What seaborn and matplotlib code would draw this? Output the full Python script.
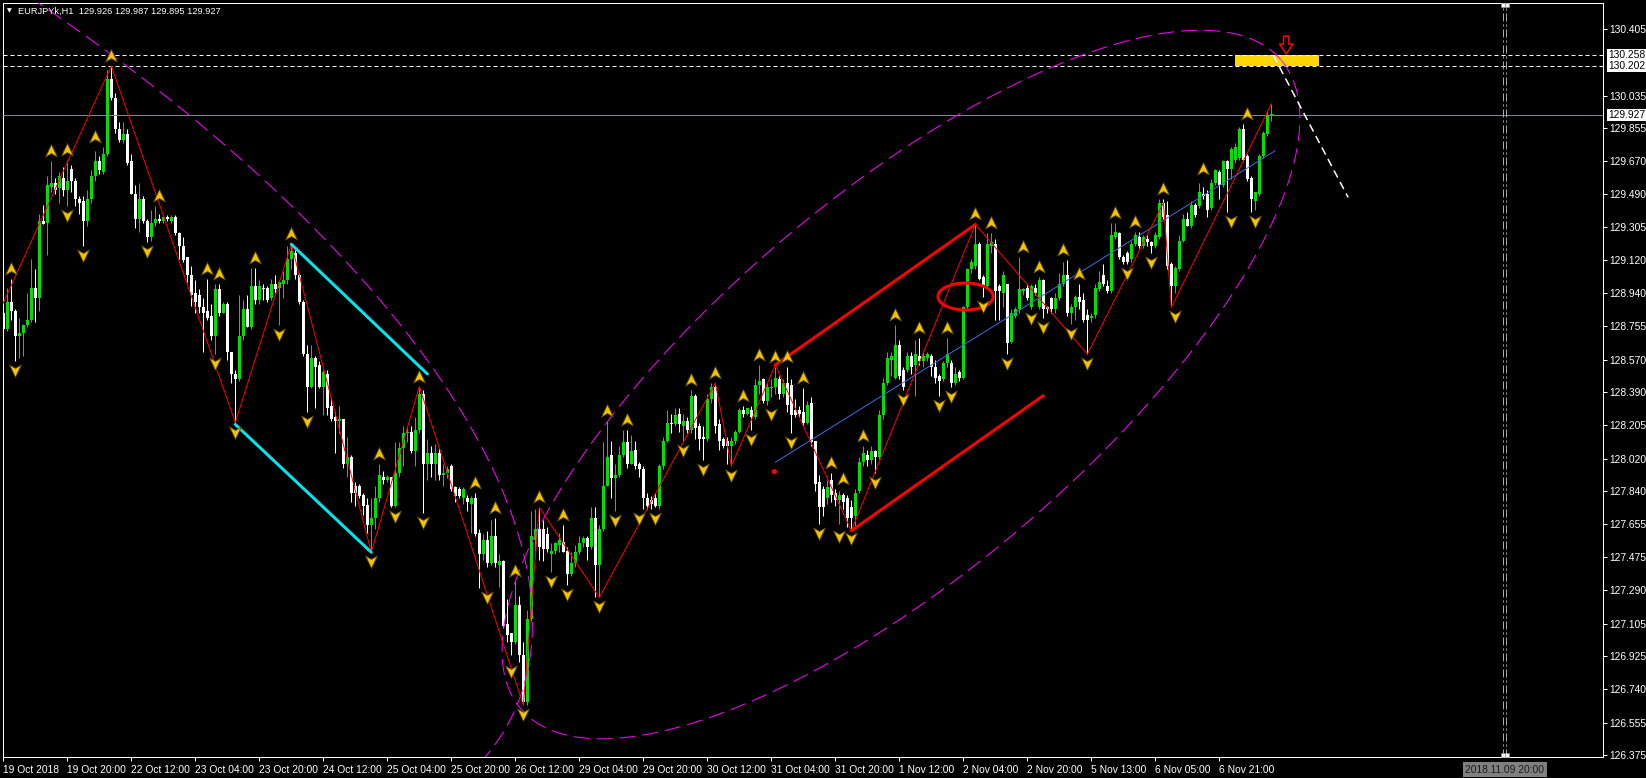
import numpy as np
import pandas as pd
import matplotlib
matplotlib.use("Agg")
import matplotlib.pyplot as plt
from matplotlib.path import Path
from matplotlib import transforms
import seaborn as sns

# ---- values -----------------------------------------------------------
title = "EURJPYk,H1  129.926 129.987 129.895 129.927"

time_labels = ["19 Oct 2018", "19 Oct 20:00", "22 Oct 12:00", "23 Oct 04:00",
               "23 Oct 20:00", "24 Oct 12:00", "25 Oct 04:00", "25 Oct 20:00",
               "26 Oct 12:00", "29 Oct 04:00", "29 Oct 20:00", "30 Oct 12:00",
               "31 Oct 04:00", "31 Oct 20:00", "1 Nov 12:00", "2 Nov 04:00",
               "2 Nov 20:00", "5 Nov 13:00", "6 Nov 05:00", "6 Nov 21:00"]
bars_per_label = 16

price_ticks = [126.375, 126.555, 126.740, 126.925, 127.105, 127.290, 127.475,
               127.655, 127.840, 128.020, 128.205, 128.390, 128.570, 128.755,
               128.940, 129.120, 129.305, 129.490, 129.670, 129.855, 130.035,
               130.405]

# H1 candles, one row per bar (open, high, low, close)
ohlc = [
    (128.83, 128.85, 128.72, 128.74), (128.74, 128.97, 128.73, 128.89), (128.89, 129.02, 128.79, 128.84),
    (128.84, 128.85, 128.56, 128.70), (128.70, 128.80, 128.58, 128.72), (128.72, 128.77, 128.59, 128.76),
    (128.76, 128.94, 128.75, 128.79), (128.79, 129.13, 128.78, 128.97), (128.97, 129.07, 128.78, 128.91),
    (128.91, 129.38, 128.84, 129.34), (129.34, 129.43, 129.32, 129.32), (129.33, 129.59, 129.15, 129.54),
    (129.53, 129.67, 129.50, 129.55), (129.55, 129.58, 129.49, 129.51), (129.52, 129.61, 129.44, 129.59),
    (129.58, 129.64, 129.48, 129.51), (129.51, 129.68, 129.42, 129.56), (129.63, 129.65, 129.50, 129.56),
    (129.56, 129.58, 129.42, 129.46), (129.46, 129.48, 129.38, 129.44), (129.45, 129.48, 129.20, 129.34),
    (129.34, 129.51, 129.31, 129.46), (129.46, 129.62, 129.44, 129.59), (129.59, 129.73, 129.56, 129.67),
    (129.67, 129.70, 129.60, 129.62), (129.61, 129.75, 129.60, 129.71), (129.71, 130.18, 129.70, 130.13),
    (130.13, 130.20, 130.01, 130.02), (130.02, 130.05, 129.83, 129.85), (129.85, 129.89, 129.78, 129.79),
    (129.79, 129.89, 129.77, 129.82), (129.82, 129.85, 129.65, 129.66), (129.67, 129.71, 129.49, 129.49),
    (129.49, 129.54, 129.30, 129.35), (129.35, 129.55, 129.28, 129.46), (129.46, 129.48, 129.33, 129.34),
    (129.34, 129.35, 129.22, 129.25), (129.25, 129.40, 129.23, 129.33), (129.33, 129.42, 129.31, 129.35),
    (129.35, 129.38, 129.33, 129.34), (129.34, 129.37, 129.33, 129.36), (129.36, 129.37, 129.34, 129.35),
    (129.34, 129.37, 129.33, 129.36), (129.36, 129.37, 129.26, 129.27), (129.27, 129.28, 129.13, 129.20),
    (129.20, 129.25, 129.11, 129.12), (129.14, 129.14, 129.00, 129.04), (129.04, 129.09, 128.87, 128.93),
    (128.94, 129.01, 128.83, 128.89), (128.93, 128.96, 128.83, 128.86), (128.86, 128.91, 128.61, 128.83),
    (128.84, 129.02, 128.79, 128.80), (128.81, 128.88, 128.68, 128.70), (128.70, 128.99, 128.60, 128.96),
    (128.96, 128.99, 128.81, 128.83), (128.83, 128.89, 128.83, 128.88), (128.88, 128.89, 128.57, 128.61),
    (128.61, 128.61, 128.44, 128.49), (128.49, 128.51, 128.22, 128.46), (128.46, 128.93, 128.45, 128.70),
    (128.70, 128.90, 128.68, 128.85), (128.85, 128.93, 128.75, 128.75), (128.75, 129.08, 128.74, 128.98),
    (128.98, 129.08, 128.88, 128.90), (128.90, 129.01, 128.88, 128.98), (128.97, 128.99, 128.90, 128.96),
    (128.97, 128.98, 128.89, 128.90), (128.91, 129.02, 128.90, 128.99), (128.99, 129.04, 128.94, 128.96),
    (128.97, 129.01, 128.76, 129.00), (128.99, 129.06, 128.91, 129.01), (129.01, 129.20, 128.99, 129.13),
    (129.13, 129.21, 129.07, 129.17), (129.16, 129.18, 129.02, 129.04), (129.04, 129.05, 128.88, 128.89),
    (128.89, 128.90, 128.59, 128.60), (128.60, 128.65, 128.28, 128.42), (128.42, 128.65, 128.41, 128.58),
    (128.58, 128.59, 128.30, 128.53), (128.54, 128.56, 128.41, 128.42), (128.42, 128.51, 128.26, 128.50),
    (128.49, 128.51, 128.26, 128.30), (128.31, 128.36, 128.23, 128.24), (128.25, 128.28, 128.05, 128.23),
    (128.23, 128.31, 128.16, 128.24), (128.24, 128.24, 127.97, 127.99), (127.99, 128.14, 127.92, 128.03),
    (128.03, 128.04, 127.78, 127.83), (127.87, 127.89, 127.76, 127.83), (127.87, 127.88, 127.80, 127.81),
    (127.82, 127.83, 127.71, 127.76), (127.76, 127.80, 127.61, 127.65), (127.65, 127.80, 127.50, 127.69),
    (127.69, 127.87, 127.63, 127.80), (127.80, 127.99, 127.78, 127.93), (127.92, 127.95, 127.88, 127.90),
    (127.90, 127.93, 127.89, 127.92), (127.92, 127.92, 127.75, 127.76), (127.76, 128.11, 127.75, 127.94),
    (127.94, 128.11, 127.92, 128.08), (128.08, 128.20, 127.98, 128.16), (128.16, 128.20, 128.11, 128.17),
    (128.17, 128.20, 128.05, 128.06), (128.06, 128.25, 127.98, 128.18), (128.18, 128.42, 128.16, 128.38),
    (128.38, 128.40, 127.72, 127.99), (127.99, 128.13, 127.90, 128.05), (128.05, 128.09, 127.92, 127.99),
    (127.99, 128.10, 127.90, 128.05), (128.05, 128.08, 127.90, 127.93), (127.93, 127.99, 127.87, 127.94),
    (127.94, 127.98, 127.91, 127.96), (127.98, 127.99, 127.84, 127.85), (127.86, 127.87, 127.78, 127.81),
    (127.85, 127.86, 127.80, 127.81), (127.80, 127.86, 127.77, 127.85), (127.80, 127.82, 127.73, 127.78),
    (127.77, 127.81, 127.61, 127.80), (127.80, 127.83, 127.59, 127.60), (127.61, 127.63, 127.30, 127.49),
    (127.49, 127.60, 127.46, 127.57), (127.57, 127.62, 127.42, 127.44), (127.44, 127.68, 127.43, 127.59),
    (127.59, 127.69, 127.42, 127.44), (127.43, 127.49, 127.31, 127.45), (127.45, 127.46, 127.08, 127.09),
    (127.10, 127.24, 127.00, 127.04), (127.05, 127.05, 126.93, 127.00), (127.00, 127.34, 126.99, 127.21),
    (127.21, 127.26, 126.89, 126.93), (126.93, 127.00, 126.66, 126.67), (126.67, 127.18, 126.65, 127.13),
    (127.13, 127.73, 127.12, 127.59), (127.57, 127.74, 127.51, 127.63), (127.63, 127.75, 127.46, 127.53),
    (127.63, 127.68, 127.45, 127.52), (127.60, 127.64, 127.50, 127.52), (127.49, 127.55, 127.39, 127.51),
    (127.51, 127.56, 127.49, 127.55), (127.54, 127.61, 127.50, 127.57), (127.56, 127.65, 127.50, 127.50),
    (127.51, 127.53, 127.32, 127.38), (127.38, 127.50, 127.37, 127.44), (127.44, 127.54, 127.42, 127.50),
    (127.50, 127.59, 127.49, 127.55), (127.55, 127.59, 127.53, 127.58), (127.58, 127.59, 127.46, 127.53),
    (127.53, 127.75, 127.52, 127.69), (127.69, 127.75, 127.25, 127.43), (127.43, 127.65, 127.25, 127.63),
    (127.63, 128.11, 127.62, 127.87), (127.87, 128.23, 127.87, 128.03), (128.04, 128.12, 127.80, 127.91),
    (127.91, 127.99, 127.73, 127.93), (127.93, 128.09, 127.92, 128.04), (128.04, 128.18, 128.03, 128.11),
    (128.11, 128.18, 127.97, 127.99), (127.99, 128.15, 127.99, 128.06), (128.07, 128.12, 127.96, 127.98),
    (127.99, 128.00, 127.92, 127.96), (127.96, 127.98, 127.74, 127.80), (127.80, 127.83, 127.74, 127.76),
    (127.79, 127.81, 127.74, 127.77), (127.80, 127.83, 127.75, 127.76), (127.76, 127.99, 127.74, 127.98),
    (127.98, 128.14, 127.96, 128.12), (128.12, 128.29, 128.11, 128.22), (128.22, 128.27, 128.16, 128.21),
    (128.21, 128.30, 128.20, 128.26), (128.27, 128.30, 128.17, 128.21), (128.20, 128.27, 128.12, 128.23),
    (128.23, 128.25, 128.16, 128.18), (128.18, 128.40, 128.16, 128.37), (128.37, 128.38, 128.13, 128.19),
    (128.20, 128.22, 128.07, 128.13), (128.14, 128.20, 128.01, 128.13), (128.13, 128.38, 128.12, 128.35),
    (128.35, 128.44, 128.33, 128.42), (128.42, 128.43, 128.16, 128.20), (128.21, 128.24, 128.07, 128.12),
    (128.13, 128.14, 128.08, 128.09), (128.12, 128.14, 127.99, 128.09), (128.09, 128.14, 127.98, 128.12),
    (128.12, 128.18, 128.10, 128.17), (128.17, 128.30, 128.16, 128.29), (128.29, 128.31, 128.25, 128.27),
    (128.27, 128.30, 128.26, 128.30), (128.29, 128.31, 128.18, 128.25), (128.25, 128.46, 128.24, 128.43),
    (128.43, 128.54, 128.38, 128.45), (128.46, 128.47, 128.33, 128.34), (128.34, 128.44, 128.32, 128.42),
    (128.41, 128.46, 128.36, 128.42), (128.42, 128.53, 128.38, 128.47), (128.46, 128.48, 128.35, 128.38),
    (128.38, 128.46, 128.36, 128.44), (128.44, 128.53, 128.28, 128.32), (128.43, 128.46, 128.16, 128.26),
    (128.29, 128.35, 128.25, 128.26), (128.29, 128.31, 128.25, 128.27), (128.28, 128.41, 128.20, 128.22),
    (128.22, 128.34, 128.21, 128.32), (128.33, 128.36, 128.09, 128.11), (128.12, 128.12, 127.84, 127.88),
    (127.89, 127.93, 127.66, 127.75), (127.85, 127.87, 127.70, 127.75), (127.80, 127.90, 127.77, 127.86),
    (127.90, 127.94, 127.78, 127.82), (127.83, 127.85, 127.76, 127.79), (127.79, 127.84, 127.66, 127.82),
    (127.82, 127.83, 127.74, 127.78), (127.80, 127.82, 127.64, 127.69), (127.75, 127.79, 127.63, 127.69),
    (127.70, 127.85, 127.64, 127.83), (127.84, 128.03, 127.83, 128.00), (128.00, 128.09, 127.98, 128.05),
    (128.04, 128.07, 127.98, 128.01), (128.01, 128.09, 127.99, 128.06), (128.06, 128.07, 127.94, 128.03),
    (128.03, 128.29, 128.02, 128.26), (128.26, 128.47, 128.24, 128.44), (128.44, 128.61, 128.43, 128.58),
    (128.57, 128.61, 128.48, 128.59), (128.47, 128.76, 128.46, 128.65), (128.65, 128.68, 128.46, 128.48),
    (128.51, 128.53, 128.40, 128.42), (128.51, 128.61, 128.50, 128.59), (128.59, 128.61, 128.49, 128.53),
    (128.54, 128.68, 128.37, 128.60), (128.59, 128.69, 128.54, 128.56), (128.56, 128.62, 128.53, 128.59),
    (128.58, 128.61, 128.56, 128.60), (128.59, 128.60, 128.48, 128.53), (128.53, 128.57, 128.44, 128.47),
    (128.48, 128.49, 128.37, 128.45), (128.46, 128.56, 128.45, 128.55), (128.55, 128.69, 128.53, 128.60),
    (128.55, 128.57, 128.42, 128.44), (128.44, 128.53, 128.43, 128.49), (128.50, 128.51, 128.45, 128.47),
    (128.47, 128.87, 128.46, 128.86), (128.86, 129.08, 128.85, 129.07), (129.07, 129.13, 129.05, 129.11),
    (129.09, 129.32, 129.07, 129.21), (129.21, 129.22, 129.01, 129.02), (129.03, 129.04, 128.92, 128.98),
    (128.98, 129.27, 128.97, 129.21), (129.20, 129.27, 129.16, 129.22), (129.21, 129.24, 128.79, 128.95),
    (128.98, 128.99, 128.79, 128.95), (128.94, 129.06, 128.86, 129.04), (128.99, 128.99, 128.60, 128.66),
    (128.67, 128.85, 128.66, 128.83), (128.81, 128.86, 128.80, 128.85), (128.85, 129.14, 128.83, 128.96),
    (128.95, 128.97, 128.93, 128.96), (128.97, 128.99, 128.90, 128.91), (128.86, 128.99, 128.85, 128.98),
    (128.97, 128.99, 128.93, 128.94), (128.86, 129.03, 128.85, 129.01), (129.01, 129.02, 128.80, 128.85),
    (128.86, 128.87, 128.83, 128.85), (128.91, 128.92, 128.83, 128.85), (128.85, 128.94, 128.83, 128.91),
    (128.91, 129.05, 128.90, 128.99), (128.99, 129.11, 128.98, 129.04), (129.04, 129.12, 128.81, 128.83),
    (128.83, 128.88, 128.77, 128.86), (128.86, 128.93, 128.79, 128.92), (128.92, 128.99, 128.85, 128.89),
    (128.90, 128.94, 128.78, 128.79), (128.82, 128.85, 128.60, 128.79), (128.80, 128.83, 128.78, 128.81),
    (128.82, 128.99, 128.80, 128.97), (128.96, 129.06, 128.95, 129.00), (129.04, 129.10, 128.98, 128.99),
    (128.98, 129.01, 128.94, 128.95), (128.95, 129.33, 128.94, 129.26), (129.25, 129.33, 129.24, 129.28),
    (129.27, 129.28, 129.13, 129.14), (129.14, 129.15, 129.10, 129.11), (129.16, 129.17, 129.10, 129.11),
    (129.13, 129.23, 129.11, 129.21), (129.21, 129.28, 129.20, 129.26), (129.25, 129.28, 129.19, 129.20),
    (129.20, 129.26, 129.19, 129.25), (129.24, 129.26, 129.20, 129.22), (129.22, 129.23, 129.16, 129.20),
    (129.20, 129.28, 129.19, 129.26), (129.25, 129.46, 129.24, 129.44), (129.44, 129.46, 129.35, 129.36),
    (129.37, 129.45, 129.07, 129.09), (129.10, 129.11, 128.86, 128.98), (128.98, 129.09, 128.94, 129.08),
    (129.07, 129.26, 129.06, 129.23), (129.23, 129.38, 129.22, 129.35), (129.35, 129.39, 129.31, 129.31),
    (129.31, 129.45, 129.30, 129.43), (129.43, 129.44, 129.36, 129.37), (129.42, 129.55, 129.41, 129.50),
    (129.49, 129.53, 129.46, 129.48), (129.49, 129.51, 129.36, 129.40), (129.41, 129.57, 129.40, 129.55),
    (129.55, 129.63, 129.54, 129.62), (129.61, 129.62, 129.46, 129.54), (129.54, 129.68, 129.53, 129.67),
    (129.67, 129.68, 129.39, 129.63), (129.63, 129.75, 129.57, 129.74), (129.68, 129.77, 129.66, 129.75),
    (129.69, 129.86, 129.68, 129.85), (129.85, 129.88, 129.67, 129.68), (129.70, 129.71, 129.56, 129.57),
    (129.58, 129.59, 129.39, 129.46), (129.45, 129.50, 129.40, 129.50), (129.49, 129.71, 129.48, 129.70),
    (129.70, 129.84, 129.69, 129.83), (129.82, 129.95, 129.81, 129.93), (129.926, 129.987, 129.895, 129.927),
]

# Bill Williams fractal bars
fractal_up = [2, 12, 16, 23, 27, 39, 51, 54, 63, 72, 94, 104, 118, 123, 128, 134, 140,
              151, 156, 172, 178, 185, 189, 193, 196, 200, 207, 210, 215, 223, 229, 236,
              243, 247, 255, 259, 265, 269, 278, 283, 290, 300, 311]
fractal_down = [3, 16, 20, 36, 53, 58, 69, 76, 92, 98, 105, 121, 127, 130, 137, 141, 149,
                153, 159, 163, 170, 175, 182, 187, 192, 197, 204, 209, 212, 218, 225, 234,
                237, 245, 251, 257, 260, 267, 271, 281, 287, 293, 307, 313]

# ZigZag pivots (bar, price)
zz_bars = [-4, 27, 58, 72, 92, 104, 130, 134, 149, 178, 182, 193, 212, 243, 271, 290, 292, 317]
zz_prices = [128.69, 130.20, 128.22, 129.21, 127.50, 128.42, 126.65, 127.75, 127.25,
             128.44, 127.98, 128.54, 127.62, 129.32, 128.60, 129.44, 128.86, 129.99]

# drawn objects (bar, price anchors)
cyan_upper = ([72, 106], [129.21, 128.49])
cyan_lower = ([58, 92], [128.21, 127.50])
red_upper = ([193, 243], [128.54, 129.32])
red_lower = ([212, 260], [127.62, 128.37])
regression = ([193, 318], [128.00, 129.73])
forecast_line = ([317.5, 336.2], [130.258, 129.47])
red_dot = (192.75, 127.948)
red_ring = (240.55, 128.92, 6.9, 0.075)          # centre bar, centre price, half width, half height
ellipse_left = ((127.2, 126.592), (-361.3, 131.876), 0.421)
ellipse_right = ((129.4, 126.630), (319.4, 130.233), 0.374)
target_zone = (308, 329, 130.202, 130.258)
target_arrow = (320.7, 130.316)
level_lines = [130.258, 130.202]
bid_price = 129.927
vline_bar = 375
vline_label = "2018.11.09 20:00"

# ---- style ------------------------------------------------------------
sns.set_style("ticks", {"axes.facecolor": "black", "figure.facecolor": "black"})
plt.rcParams["font.family"] = ["Liberation Sans", "DejaVu Sans"]
plt.rcParams["lines.scale_dashes"] = False
PX = 0.72                     # one screen pixel in points at dpi 100
FS = 7.4                      # axis labels
FS_TITLE = 6.7
BULL, BEAR = "#00e000", "#ffffff"
MAGENTA, CYAN = "#ff00ff", "#00e5ee"
GOLD, GOLD_EDGE = "#f4c400", "#5c4600"

W, H = 1646, 778
fig = plt.figure(figsize=(W / 100, H / 100), dpi=100, facecolor="black")
L_PX, R_PX, T_PX, B_PX = 2.5, 1603, 2.5, 757
ax = fig.add_axes([L_PX / W, (H - B_PX) / H, (R_PX - L_PX) / W, (B_PX - T_PX) / H])
ax.set_facecolor("black")
XLIM = (-0.2, 399.9)
YLIM = (126.364, 130.552)
ax.set_xlim(*XLIM)
ax.set_ylim(*YLIM)
ax.autoscale(False)

bars = pd.DataFrame(ohlc, columns=["open", "high", "low", "close"])
bars["bar"] = np.arange(len(bars))
up = bars["close"] >= bars["open"]
colors = np.where(up, BULL, BEAR)

# ---- candles ----------------------------------------------------------
ax.vlines(bars["bar"], bars["low"], bars["high"], colors=colors, lw=PX, zorder=2)
body_lo = np.minimum(bars["open"], bars["close"])
body_h = np.maximum((bars["close"] - bars["open"]).abs(), 0.006)
ax.bar(bars["bar"], body_h, bottom=body_lo, width=0.75, color=colors, lw=0, zorder=2.1)

# ---- horizontal / vertical lines --------------------------------------
for lv in level_lines:
    ax.axhline(lv, color="white", lw=PX, linestyle=(0, (4 * PX, 3 * PX)), zorder=3)
ax.axhline(bid_price, color="#778899", lw=PX, zorder=3)
for dx in (0.0, 0.75):
    ax.axvline(vline_bar + dx, color="#a8a8a8", lw=PX,
               linestyle=(0, (8 * PX, 3 * PX, 2 * PX, 3 * PX)), zorder=3)
xa = transforms.blended_transform_factory(ax.transData, ax.transAxes)
for yy in (0.9967, 0.0033):
    ax.scatter([vline_bar - 0.1, vline_bar + 0.85], [yy, yy], transform=xa, marker="s",
               s=(3.5 * PX) ** 2, facecolor="white", edgecolor="#909090", lw=0.4,
               zorder=5, clip_on=False)

# target zone + arrow + dashed forecast
ax.fill_between(target_zone[:2], target_zone[2], target_zone[3], color="#ffd700",
                lw=0, zorder=2.5)
arrow_path = Path([(-0.3, 1), (0.3, 1), (0.3, 0.1), (0.75, 0.1), (0, -1),
                   (-0.75, 0.1), (-0.3, 0.1), (-0.3, 1)])
ax.scatter([target_arrow[0]], [target_arrow[1]], marker=arrow_path, s=165,
           facecolors="none", edgecolors="#ff0000", linewidths=1.1, zorder=5)
ax.plot(*forecast_line, color="white", lw=1.5 * PX,
        linestyle=(0, (8 * PX, 5 * PX)), zorder=4)

# ---- indicator lines (seaborn) ----------------------------------------
sns.lineplot(x=zz_bars, y=zz_prices, ax=ax, color="#ff0000", linewidth=PX,
             sort=False, estimator=None, zorder=3.5)
for seg in (cyan_upper, cyan_lower):
    sns.lineplot(x=seg[0], y=seg[1], ax=ax, color=CYAN, linewidth=3 * PX,
                 sort=False, estimator=None, zorder=3.6)
for seg in (red_upper, red_lower):
    sns.lineplot(x=seg[0], y=seg[1], ax=ax, color="#ff0000", linewidth=3 * PX,
                 sort=False, estimator=None, zorder=3.6)
sns.lineplot(x=regression[0], y=regression[1], ax=ax, color="#4169e1", linewidth=PX,
             sort=False, estimator=None, zorder=3.4)
sns.scatterplot(x=[red_dot[0]], y=[red_dot[1]], ax=ax, color="#ff0000", s=14,
                edgecolor="none", legend=False, zorder=4)

t = np.linspace(0, 2 * np.pi, 400)
cx, cy, rx, ry = red_ring
ax.plot(cx + rx * np.cos(t), cy + ry * np.sin(t), color="#ff0000", lw=3 * PX, zorder=4)


def mt4_ellipse(p1, p2, ratio, n=3000):
    # ellipse drawn in screen space on the diameter p1-p2, like the MT4 object
    tr = ax.transData
    a = tr.transform(p1)
    b = tr.transform(p2)
    c = (a + b) / 2
    u = (b - a) / 2
    v = np.array([-u[1], u[0]]) * ratio
    tt = np.linspace(0, 2 * np.pi, n)
    pts = c + np.outer(np.cos(tt), u) + np.outer(np.sin(tt), v)
    return tr.inverted().transform(pts)


for p1, p2, r in (ellipse_left, ellipse_right):
    e = mt4_ellipse(p1, p2, r)
    ax.plot(e[:, 0], e[:, 1], color=MAGENTA, lw=PX,
            linestyle=(0, (16 * PX, 7 * PX)), zorder=3.2)

# ---- fractal arrows ---------------------------------------------------
up_path = Path([(0, 1), (0.85, -0.8), (0, -0.3), (-0.85, -0.8), (0, 1)])
down_path = Path([(0, -1), (0.85, 0.8), (0, 0.3), (-0.85, 0.8), (0, -1)])
hi = bars["high"].to_numpy()
lo = bars["low"].to_numpy()
up_y = [hi[max(i - 2, 0):i + 3].max() for i in fractal_up]
dn_y = [lo[max(i - 2, 0):i + 3].min() for i in fractal_down]
up_tr = transforms.offset_copy(ax.transData, fig=fig, x=0, y=10, units="dots")
dn_tr = transforms.offset_copy(ax.transData, fig=fig, x=0, y=-9, units="dots")
sns.scatterplot(x=fractal_up, y=up_y, ax=ax, marker=up_path, s=100, color=GOLD,
                edgecolor=GOLD_EDGE, linewidth=0.6, transform=up_tr, legend=False, zorder=4.5)
sns.scatterplot(x=fractal_down, y=dn_y, ax=ax, marker=down_path, s=100, color=GOLD,
                edgecolor=GOLD_EDGE, linewidth=0.6, transform=dn_tr, legend=False, zorder=4.5)

# ---- axes -------------------------------------------------------------
ax.set_xlim(*XLIM)
ax.set_ylim(*YLIM)
ax.set_xlabel("")
ax.set_ylabel("")
for sp in ax.spines.values():
    sp.set_color("white")
    sp.set_linewidth(PX)
    sp.set_visible(True)
ax.yaxis.tick_right()
ax.set_yticks(price_ticks)
ax.set_yticklabels([f"{p:.3f}" for p in price_ticks])
ax.set_xticks(np.arange(len(time_labels)) * bars_per_label)
ax.set_xticklabels(time_labels, ha="left")
ax.tick_params(axis="y", direction="out", length=4 * PX, width=PX, colors="white",
               pad=1.5, labelsize=FS)
ax.tick_params(axis="x", direction="out", length=4 * PX, width=PX, colors="white",
               pad=3.0, labelsize=FS)
ax.grid(False)

ya = transforms.blended_transform_factory(ax.transAxes, ax.transData)
for lv in level_lines + [bid_price]:
    ax.text(1.0034, lv, f"{lv:.3f}", transform=ya, ha="left", va="center", fontsize=FS,
            color="black", zorder=6, clip_on=False,
            bbox=dict(boxstyle="square,pad=0.12", fc="white", ec="none"))
ax.text(vline_bar + 0.4, -0.0166, vline_label, transform=xa, ha="center", va="center",
        fontsize=FS, color="#1a1a1a", clip_on=False,
        bbox=dict(boxstyle="square,pad=0.2", fc="#808080", ec="none"))

fig.text(18 / W, 1 - 11 / H, title, color="white", fontsize=FS_TITLE, ha="left", va="center")
fig.text(9.5 / W, 1 - 10.5 / H, "\u25bc", color="white", fontsize=4.5, ha="center",
         va="center", family="DejaVu Sans")

fig.savefig("out.png", dpi=100, facecolor="black")
